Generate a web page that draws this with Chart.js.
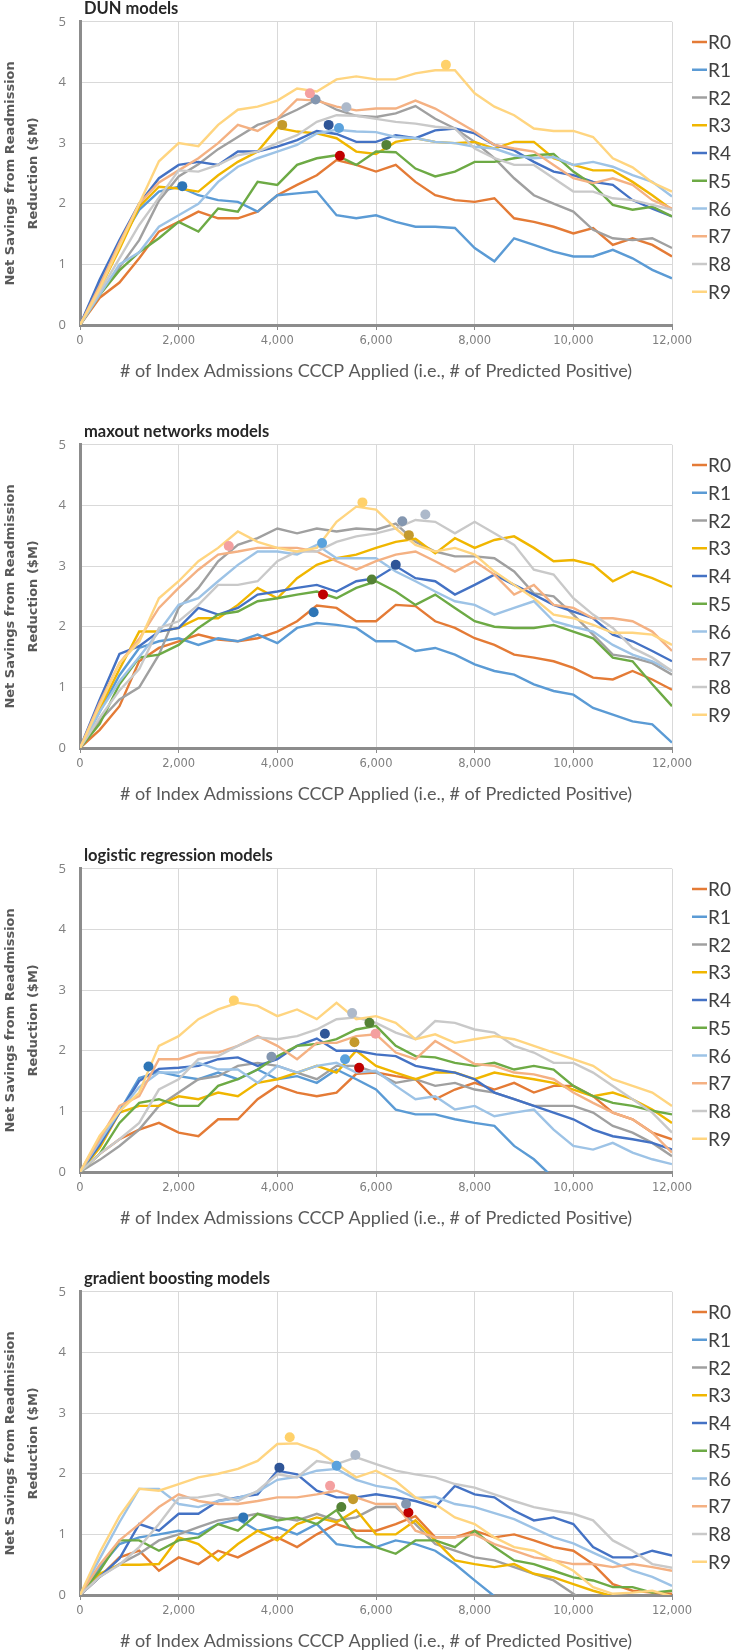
<!DOCTYPE html>
<html>
<head>
<meta charset="utf-8">
<script src="https://cdn.jsdelivr.net/npm/chart.js@4.4.1/dist/chart.umd.min.js"></script>
<style>
  body { margin: 0; background: #fff; }
  #page { position: relative; width: 736px; height: 1652px; overflow: hidden; background: #fff; }
  .panel { position: absolute; left: 0; width: 736px; height: 382px; }
  .ptitle { position: absolute; left: 84px; font: bold 16.5px Lato, sans-serif; line-height: 18px; color: #262626; white-space: nowrap; }
</style>
</head>
<body>
<div id="page"></div>
<script>
const xs = [0, 400, 800, 1200, 1600, 2000, 2400, 2800, 3200, 3600, 4000, 4400, 4800, 5200, 5600, 6000,
            6400, 6800, 7200, 7600, 8000, 8400, 8800, 9200, 9600, 10000, 10400, 10800, 11200, 11600, 12000];

const seriesNames = ['R0', 'R1', 'R2', 'R3', 'R4', 'R5', 'R6', 'R7', 'R8', 'R9'];
const panelTitles = ['DUN models', 'maxout networks models', 'logistic regression models', 'gradient boosting models'];

// net savings ($M), one row per series R0..R9
const dunSeries = [
  [0, 0.45, 0.7, 1.1, 1.54, 1.7, 1.87, 1.76, 1.76, 1.87, 2.14, 2.31, 2.47, 2.72, 2.64, 2.53, 2.64, 2.36, 2.14, 2.06, 2.03, 2.09, 1.76, 1.7, 1.62, 1.51, 1.6, 1.32, 1.43, 1.32, 1.13],
  [0, 0.7, 1.35, 1.9, 2.2, 2.28, 2.14, 2.06, 2.03, 1.87, 2.14, 2.17, 2.2, 1.81, 1.76, 1.81, 1.7, 1.62, 1.62, 1.6, 1.27, 1.05, 1.43, 1.32, 1.21, 1.13, 1.13, 1.24, 1.1, 0.91, 0.77],
  [0, 0.5, 0.95, 1.4, 2.05, 2.45, 2.65, 2.9, 3.1, 3.3, 3.4, 3.55, 3.72, 3.55, 3.45, 3.43, 3.49, 3.61, 3.4, 3.24, 3.02, 2.75, 2.42, 2.14, 2.0, 1.87, 1.57, 1.43, 1.4, 1.43, 1.27],
  [0, 0.6, 1.25, 1.95, 2.28, 2.25, 2.2, 2.47, 2.69, 2.86, 3.25, 3.19, 3.16, 3.08, 2.86, 2.82, 3.02, 3.08, 3.02, 3.0, 3.02, 2.91, 3.02, 3.02, 2.75, 2.64, 2.55, 2.55, 2.36, 2.14, 1.9],
  [0, 0.75, 1.4, 2.0, 2.42, 2.64, 2.69, 2.64, 2.86, 2.86, 2.94, 3.05, 3.2, 3.15, 3.02, 3.02, 3.13, 3.08, 3.21, 3.24, 3.16, 2.97, 2.88, 2.69, 2.53, 2.47, 2.36, 2.31, 2.06, 1.92, 1.79],
  [0, 0.5, 0.9, 1.2, 1.43, 1.7, 1.54, 1.92, 1.87, 2.36, 2.31, 2.64, 2.75, 2.8, 2.64, 2.86, 2.85, 2.58, 2.45, 2.53, 2.69, 2.69, 2.75, 2.8, 2.82, 2.53, 2.31, 1.98, 1.9, 1.95, 1.79],
  [0, 0.5, 1.0, 1.2, 1.62, 1.81, 2.0, 2.36, 2.61, 2.75, 2.86, 2.97, 3.16, 3.22, 3.19, 3.18, 3.1, 3.08, 3.02, 3.0, 2.94, 2.91, 2.8, 2.75, 2.77, 2.64, 2.69, 2.61, 2.47, 2.36, 2.12],
  [0, 0.65, 1.35, 2.0, 2.35, 2.55, 2.75, 3.0, 3.3, 3.2, 3.4, 3.72, 3.7, 3.6, 3.54, 3.57, 3.57, 3.7, 3.57, 3.38, 3.19, 2.97, 2.91, 2.86, 2.64, 2.42, 2.34, 2.42, 2.31, 2.06, 1.92],
  [0, 0.55, 1.1, 1.65, 2.1, 2.55, 2.53, 2.64, 2.8, 2.86, 3.0, 3.13, 3.35, 3.46, 3.45, 3.4, 3.35, 3.32, 3.27, 3.24, 2.91, 2.75, 2.64, 2.64, 2.42, 2.2, 2.2, 2.09, 2.06, 1.98, 1.9],
  [0, 0.6, 1.3, 2.0, 2.7, 3.0, 2.95, 3.3, 3.55, 3.6, 3.7, 3.9, 3.85, 4.05, 4.1, 4.05, 4.05, 4.15, 4.2, 4.2, 3.82, 3.6, 3.46, 3.24, 3.2, 3.2, 3.1, 2.75, 2.6, 2.35, 2.2]
];

const maxoutSeries = [
  [0, 0.3, 0.69, 1.43, 1.65, 1.76, 1.87, 1.79, 1.76, 1.81, 1.92, 2.09, 2.35, 2.31, 2.09, 2.09, 2.36, 2.34, 2.09, 1.98, 1.81, 1.7, 1.54, 1.49, 1.43, 1.32, 1.16, 1.13, 1.27, 1.13, 0.96],
  [0, 0.6, 1.2, 1.65, 1.76, 1.81, 1.7, 1.81, 1.76, 1.87, 1.73, 1.98, 2.06, 2.03, 1.98, 1.76, 1.76, 1.6, 1.65, 1.54, 1.38, 1.27, 1.21, 1.05, 0.94, 0.88, 0.66, 0.55, 0.44, 0.39, 0.09],
  [0, 0.45, 0.8, 1.0, 1.54, 2.31, 2.64, 3.08, 3.35, 3.46, 3.62, 3.54, 3.62, 3.57, 3.62, 3.6, 3.7, 3.4, 3.24, 3.16, 3.16, 3.13, 2.91, 2.55, 2.5, 2.2, 1.87, 1.54, 1.49, 1.4, 1.21],
  [0, 0.65, 1.3, 1.92, 1.92, 1.98, 2.14, 2.14, 2.36, 2.64, 2.47, 2.8, 3.02, 3.13, 3.19, 3.3, 3.4, 3.45, 3.21, 3.46, 3.3, 3.43, 3.49, 3.3, 3.08, 3.1, 3.02, 2.75, 2.91, 2.8, 2.66],
  [0, 0.8, 1.55, 1.68, 1.92, 1.98, 2.31, 2.2, 2.31, 2.53, 2.58, 2.64, 2.69, 2.58, 2.75, 2.8, 3.0, 2.8, 2.75, 2.53, 2.69, 2.86, 2.69, 2.53, 2.36, 2.25, 2.14, 1.87, 1.76, 1.6, 1.43],
  [0, 0.4, 1.05, 1.49, 1.54, 1.7, 1.98, 2.2, 2.25, 2.42, 2.47, 2.53, 2.58, 2.47, 2.64, 2.75, 2.58, 2.36, 2.53, 2.31, 2.09, 2.0, 1.98, 1.98, 2.03, 1.92, 1.81, 1.49, 1.43, 1.05, 0.69],
  [0, 0.6, 1.1, 1.5, 1.92, 2.36, 2.47, 2.75, 3.02, 3.24, 3.24, 3.19, 3.35, 3.13, 3.13, 3.13, 2.91, 2.75, 2.58, 2.42, 2.36, 2.2, 2.31, 2.42, 2.09, 2.0, 1.92, 1.7, 1.54, 1.43, 1.27],
  [0, 0.75, 1.4, 1.8, 2.31, 2.64, 2.94, 3.19, 3.24, 3.3, 3.3, 3.3, 3.24, 3.08, 2.94, 3.08, 3.19, 3.24, 3.08, 2.91, 3.08, 2.86, 2.53, 2.69, 2.36, 2.31, 2.14, 2.14, 2.09, 1.92, 1.6],
  [0, 0.5, 0.95, 1.3, 1.98, 2.09, 2.36, 2.69, 2.69, 2.75, 3.08, 3.24, 3.24, 3.4, 3.49, 3.54, 3.62, 3.76, 3.73, 3.54, 3.73, 3.54, 3.35, 2.94, 2.86, 2.47, 2.2, 1.98, 1.65, 1.49, 1.27],
  [0, 0.7, 1.4, 1.75, 2.47, 2.75, 3.08, 3.3, 3.57, 3.4, 3.3, 3.24, 3.3, 3.73, 3.98, 3.93, 3.62, 3.35, 3.24, 3.3, 3.19, 2.91, 2.69, 2.47, 2.2, 2.14, 2.03, 1.9, 1.9, 1.87, 1.7]
];

const logregSeries = [
  [0, 0.3, 0.54, 0.7, 0.81, 0.65, 0.59, 0.87, 0.87, 1.2, 1.42, 1.31, 1.25, 1.31, 1.62, 1.64, 1.58, 1.53, 1.2, 1.36, 1.47, 1.36, 1.47, 1.31, 1.42, 1.42, 1.25, 0.98, 0.87, 0.65, 0.54],
  [0, 0.55, 1.0, 1.55, 1.65, 1.58, 1.53, 1.64, 1.53, 1.69, 1.53, 1.58, 1.47, 1.69, 1.53, 1.36, 1.03, 0.95, 0.95, 0.87, 0.81, 0.76, 0.43, 0.21, -0.1, -0.3, -0.5, -0.7, -0.9, -1.1, -1.3],
  [0, 0.2, 0.43, 0.7, 1.09, 1.31, 1.53, 1.58, 1.75, 1.8, 1.75, 1.64, 1.53, 1.75, 1.75, 1.64, 1.47, 1.53, 1.42, 1.47, 1.36, 1.31, 1.2, 1.09, 1.09, 1.09, 0.98, 0.76, 0.65, 0.48, 0.26],
  [0, 0.4, 0.98, 1.09, 1.09, 1.25, 1.2, 1.31, 1.25, 1.47, 1.53, 1.64, 1.75, 1.64, 2.0, 1.75, 1.64, 1.53, 1.64, 1.64, 1.53, 1.64, 1.58, 1.53, 1.47, 1.36, 1.25, 1.31, 1.2, 1.03, 0.81],
  [0, 0.45, 0.98, 1.5, 1.7, 1.72, 1.75, 1.86, 1.89, 1.75, 1.86, 2.08, 2.2, 2.0, 2.0, 1.94, 1.91, 1.75, 1.69, 1.64, 1.53, 1.31, 1.2, 1.09, 0.98, 0.87, 0.7, 0.59, 0.54, 0.48, 0.37],
  [0, 0.3, 0.81, 1.14, 1.2, 1.09, 1.09, 1.42, 1.53, 1.69, 1.91, 2.08, 2.11, 2.19, 2.35, 2.41, 2.08, 1.91, 1.89, 1.8, 1.75, 1.8, 1.69, 1.75, 1.69, 1.42, 1.25, 1.14, 1.09, 1.01, 0.95],
  [0, 0.5, 1.0, 1.4, 1.64, 1.64, 1.8, 1.69, 1.69, 1.47, 1.75, 1.64, 1.75, 1.8, 1.64, 1.67, 1.42, 1.2, 1.25, 1.03, 1.09, 0.92, 0.98, 1.03, 0.7, 0.43, 0.37, 0.48, 0.32, 0.21, 0.13],
  [0, 0.55, 1.09, 1.25, 1.86, 1.86, 1.97, 1.97, 2.08, 2.24, 2.08, 1.86, 2.13, 2.13, 2.24, 2.27, 1.97, 1.86, 2.16, 1.97, 1.78, 1.75, 1.64, 1.61, 1.53, 1.31, 1.14, 0.98, 0.87, 0.65, 0.32],
  [0, 0.3, 0.54, 0.81, 1.36, 1.53, 1.86, 1.91, 2.08, 2.22, 2.19, 2.24, 2.35, 2.52, 2.55, 2.46, 2.3, 2.19, 2.49, 2.46, 2.35, 2.3, 2.08, 1.97, 1.8, 1.8, 1.64, 1.42, 1.2, 0.98, 0.65],
  [0, 0.6, 1.0, 1.31, 2.08, 2.24, 2.52, 2.68, 2.79, 2.74, 2.57, 2.68, 2.52, 2.79, 2.52, 2.57, 2.46, 2.19, 2.27, 2.13, 2.19, 2.24, 2.19, 2.08, 1.97, 1.86, 1.75, 1.53, 1.42, 1.31, 1.09]
];

const gbSeries = [
  [0, 0.3, 0.62, 0.73, 0.4, 0.62, 0.51, 0.73, 0.62, 0.79, 0.95, 0.79, 1.0, 1.17, 1.06, 1.06, 1.17, 1.3, 0.95, 0.95, 1.06, 0.95, 1.0, 0.9, 0.79, 0.73, 0.51, 0.18, 0.07, 0.04, 0.02],
  [0, 0.45, 0.84, 0.95, 1.0, 1.06, 1.0, 1.17, 1.25, 1.06, 1.12, 1.0, 1.17, 0.84, 0.79, 0.79, 0.9, 0.84, 0.73, 0.51, 0.24, -0.02, -0.2, -0.4, -0.6, -0.8, -1.0, -1.2, -1.4, -1.6, -1.8],
  [0, 0.3, 0.51, 0.68, 0.9, 1.0, 1.12, 1.23, 1.28, 1.34, 1.28, 1.23, 1.34, 1.23, 1.28, 1.45, 1.45, 1.17, 0.84, 0.73, 0.62, 0.57, 0.46, 0.35, 0.24, 0.02, -0.2, -0.4, -0.6, -0.8, -1.0],
  [0, 0.35, 0.5, 0.5, 0.51, 0.95, 0.84, 0.57, 0.84, 1.06, 0.9, 1.17, 1.28, 1.2, 1.4, 1.0, 1.0, 1.23, 0.9, 0.57, 0.51, 0.46, 0.51, 0.35, 0.29, 0.18, 0.07, -0.02, -0.1, -0.2, -0.3],
  [0, 0.3, 0.6, 1.17, 1.06, 1.34, 1.34, 1.55, 1.61, 1.66, 2.05, 1.99, 1.72, 1.61, 1.61, 1.66, 1.61, 1.55, 1.45, 1.8, 1.66, 1.61, 1.39, 1.23, 1.28, 1.17, 0.79, 0.62, 0.62, 0.73, 0.65],
  [0, 0.4, 0.9, 0.9, 0.73, 0.9, 0.95, 1.17, 1.06, 1.34, 1.23, 1.28, 1.17, 1.4, 0.95, 0.79, 0.68, 0.9, 0.9, 0.79, 1.06, 0.79, 0.57, 0.51, 0.4, 0.29, 0.24, 0.13, 0.13, 0.04, 0.07],
  [0, 0.6, 1.2, 1.75, 1.75, 1.5, 1.45, 1.55, 1.6, 1.7, 1.9, 1.95, 2.05, 2.08, 1.9, 1.8, 1.75, 1.6, 1.62, 1.5, 1.45, 1.35, 1.25, 1.1, 0.95, 0.85, 0.7, 0.55, 0.4, 0.3, 0.15],
  [0, 0.5, 0.9, 1.17, 1.45, 1.66, 1.55, 1.5, 1.5, 1.55, 1.61, 1.61, 1.66, 1.72, 1.61, 1.5, 1.5, 1.06, 0.95, 0.95, 1.0, 0.84, 0.73, 0.62, 0.57, 0.51, 0.51, 0.46, 0.51, 0.46, 0.4],
  [0, 0.3, 0.5, 0.79, 1.17, 1.6, 1.61, 1.66, 1.55, 1.72, 1.99, 1.94, 2.21, 2.16, 2.27, 2.16, 2.05, 1.99, 1.94, 1.83, 1.77, 1.66, 1.55, 1.45, 1.39, 1.34, 1.23, 0.9, 0.73, 0.51, 0.45],
  [0, 0.7, 1.3, 1.75, 1.72, 1.83, 1.94, 2.0, 2.08, 2.21, 2.49, 2.5, 2.38, 2.16, 1.94, 2.05, 1.88, 1.61, 1.5, 1.28, 1.17, 0.95, 0.79, 0.73, 0.57, 0.4, 0.13, 0.02, 0.04, 0.07, -0.02]
];

// highlighted maximum points, R0..R9
const dunMarkX = [5268, 2073, 4774, 4099, 5040, 6210, 5250, 4660, 5400, 7417];
const dunMarkY = [2.79, 2.29, 3.72, 3.30, 3.30, 2.97, 3.25, 3.82, 3.59, 4.29];
const maxoutMarkX = [4926, 4736, 6533, 6666, 6400, 5915, 4907, 3015, 7000, 5725];
const maxoutMarkY = [2.53, 2.24, 3.74, 3.51, 3.02, 2.78, 3.38, 3.33, 3.85, 4.05];
const logregMarkX = [5658, 1388, 3880, 5563, 4964, 5867, 5373, 5991, 5516, 3119];
const logregMarkY = [1.72, 1.74, 1.90, 2.14, 2.28, 2.46, 1.86, 2.28, 2.62, 2.83];
const gbMarkX = [6657, 3310, 6609, 5535, 4042, 5297, 5202, 5069, 5582, 4251];
const gbMarkY = [1.36, 1.28, 1.50, 1.58, 2.10, 1.45, 2.13, 1.80, 2.31, 2.60];

const lineColors = ['#E47B36', '#5B9BD5', '#A0A0A0', '#F0B600', '#4472C4', '#6DAA45', '#9DC3E6', '#F4B183', '#C9C9C9', '#FFD580'];
const markColors = ['#C00000', '#2E75B6', '#8497B0', '#C49A2C', '#2F5597', '#548235', '#5AA2DD', '#F4A0A0', '#ADB9CA', '#FFD16A'];

const panels = [
  { title: panelTitles[0], series: dunSeries, mx: dunMarkX, my: dunMarkY, top: 0 },
  { title: panelTitles[1], series: maxoutSeries, mx: maxoutMarkX, my: maxoutMarkY, top: 423 },
  { title: panelTitles[2], series: logregSeries, mx: logregMarkX, my: logregMarkY, top: 847 },
  { title: panelTitles[3], series: gbSeries, mx: gbMarkX, my: gbMarkY, top: 1270 }
];

// legend at the right edge, one short line + label per series
const sideLegend = {
  id: 'sideLegend',
  afterDraw(chart) {
    const ctx = chart.ctx;
    ctx.save();
    ctx.font = '19px Lato, sans-serif';
    ctx.textBaseline = 'middle';
    let i = 0;
    chart.data.datasets.forEach(ds => {
      if (ds.isMarker) return;
      const y = 42 + i * 27.75;
      ctx.strokeStyle = ds.borderColor;
      ctx.lineWidth = 2.5;
      ctx.beginPath();
      ctx.moveTo(692, y);
      ctx.lineTo(707, y);
      ctx.stroke();
      ctx.fillStyle = '#404040';
      ctx.fillText(ds.label, 708, y + 1);
      i++;
    });
    ctx.restore();
  }
};

const page = document.getElementById('page');

panels.forEach(p => {
  const box = document.createElement('div');
  box.className = 'panel';
  box.style.top = p.top + 'px';
  const canvas = document.createElement('canvas');
  box.appendChild(canvas);
  page.appendChild(box);

  const t = document.createElement('div');
  t.className = 'ptitle';
  t.style.top = (p.top - 1) + 'px';
  t.textContent = p.title;
  page.appendChild(t);

  const datasets = [{
    label: 'max',
    isMarker: true,
    data: p.mx.map((x, i) => ({ x: x, y: p.my[i] })),
    showLine: false,
    pointRadius: 5,
    pointBackgroundColor: markColors,
    pointBorderColor: markColors,
    pointBorderWidth: 0,
    order: 0
  }];
  p.series.forEach((vals, s) => {
    datasets.push({
      label: seriesNames[s],
      data: xs.map((x, i) => ({ x: x, y: vals[i] })),
      borderColor: lineColors[s],
      backgroundColor: lineColors[s],
      borderWidth: 2.4,
      pointRadius: 0,
      tension: 0,
      fill: false,
      order: 10 - s
    });
  });

  new Chart(canvas, {
    type: 'line',
    data: { datasets: datasets },
    plugins: [sideLegend],
    options: {
      responsive: true,
      maintainAspectRatio: false,
      animation: false,
      layout: { padding: { left: 0, right: 64, top: 21, bottom: 0 } },
      plugins: {
        legend: { display: false },
        tooltip: { enabled: false },
        title: { display: false }
      },
      scales: {
        x: {
          type: 'linear',
          min: 0,
          max: 12000,
          afterFit: s => { s.height = 57; },
          ticks: {
            stepSize: 2000,
            color: '#7f7f7f',
            font: { family: 'DejaVu Sans', size: 11.5 },
            padding: 4,
            maxRotation: 0,
            callback: v => v.toLocaleString('en-US')
          },
          grid: { color: '#d9d9d9', lineWidth: 1, tickLength: 5, tickColor: '#8c8c8c' },
          border: { display: true, color: '#8c8c8c', width: 3 },
          title: {
            display: true,
            text: '# of Index Admissions CCCP Applied (i.e., # of Predicted Positive)',
            color: '#595959',
            font: { family: 'Lato', size: 18 },
            padding: { top: 0, bottom: 0 }
          }
        },
        y: {
          min: 0,
          max: 5,
          afterFit: s => { s.width = 80; },
          ticks: {
            stepSize: 1,
            color: '#7f7f7f',
            font: { family: 'Open Sans', size: 13 },
            padding: 14
          },
          grid: { color: '#d9d9d9', lineWidth: 1, drawTicks: false },
          border: { display: true, color: '#8c8c8c', width: 3 },
          title: {
            display: true,
            text: ['Net Savings from Readmission', 'Reduction ($M)'],
            color: '#595959',
            font: { family: 'DejaVu Sans', size: 13, weight: 'bold', lineHeight: '23px' },
            padding: { top: -1, bottom: 0 }
          }
        }
      }
    }
  });
});
</script>
</body>
</html>
